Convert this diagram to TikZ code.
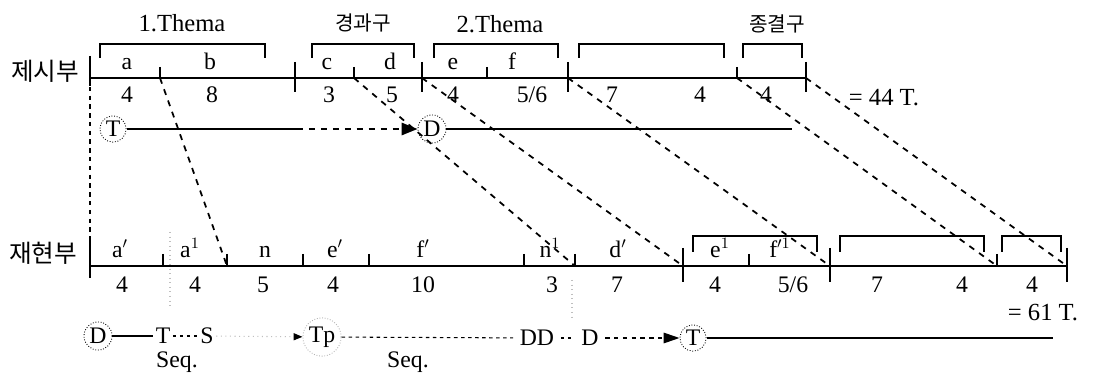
\documentclass[tikz,border=0pt]{standalone}
\usepackage{fontspec}
\setmainfont{Liberation Serif}
\newfontfamily\kor{Noto Sans CJK KR}
\usetikzlibrary{arrows.meta}

\begin{document}
\begin{tikzpicture}[x=0.02cm,y=-0.02cm,line width=1pt,font=\fontsize{13.5}{15}\selectfont,
  fkt/.style={circle,draw,densely dotted,line width=0.5pt,inner sep=1pt},
  bez/.style={dash pattern=on 3.4pt off 3.4pt},
  klam/.style={line width=0.8pt},
  kgross/.style={font=\kor\fontsize{14}{16}\selectfont},
  kklein/.style={font=\kor\fontsize{11.5}{13}\selectfont}]
\useasboundingbox (0,0) rectangle (1093,378);
% Exposition
\node[kgross] (exlab) at (45,71) {제시부};
\foreach \n/\x/\a/\b in {0/90/-22/8,1/160/-11/0,2/295/-16/14,3/354/-11/0,4/422/-16/14,5/487/-11/0,6/568/-16/14,7/737/-11/0,8/806/-16/14}
{
 \coordinate (ex\n) at (\x,78);
 \draw (\x,78+\a) -- (\x,78+\b);
}
\draw (ex0) -- (ex8);
\foreach \x/\t [count=\i] in {127/a,210/b,327/c,390/d,453/e,512/f}
 \node[anchor=base] (exa\i) at (\x,70) {\t};
\foreach \x/\t [count=\i] in {127/4,212/8,329/3,392/5,453/4,532/{5/6},612/7,700/4,766/4}
 \node[anchor=base] (exz\i) at (\x,103) {\t};
\foreach \a/\b in {100/265,312/414,434/558,579/724,743/802}
 \draw[klam] (\a,58) |- (\b,44) -- (\b,58);
\node[font=\fontsize{14}{16}\selectfont] (th1) at (182,23) {1.Thema};
\node[kklein] (ueb) at (363,23) {경과구};
\node[font=\fontsize{14}{16}\selectfont] (th2) at (500,24) {2.Thema};
\node[kklein] (schl) at (777,24) {종결구};
\node[anchor=base,font=\fontsize{14}{16}\selectfont] (sum1) at (884,106) {= 44 T.};
% Reprise
\node[kgross] (relab) at (43,253) {재현부};
\foreach \n/\x/\a/\b in {0/90/-27/12,1/163/-12/0,2/227/-12/0,3/303/-12/0,4/369/-12/0,5/524/-12/0,6/575/-12/0,7/683/-18/16,8/749/-12/0,9/830/-18/16,10/997/-12/0,11/1067/-18/16}
{
 \coordinate (re\n) at (\x,266);
 \draw (\x,266+\a) -- (\x,266+\b);
}
\draw (re0) -- (re11);
\foreach \x/\t [count=\i] in {120/a$'$,190/a$^1$,265/n,335/e$'$,423/f$'$,550/n$^1$,618/d$'$,720/e$^1$,780/f$^{\prime1}$}
 \node[anchor=base] (rea\i) at (\x,258) {\t};
\foreach \x/\t [count=\i] in {122/4,195/4,263/5,333/4,423/10,552/3,617/7,715/4,793/{5/6},877/7,962/4,1032/4}
 \node[anchor=base] (rez\i) at (\x,293) {\t};
\foreach \a/\b in {693/817,840/984,1002/1061}
 \draw[klam] (\a,252) |- (\b,236) -- (\b,252);
\node[anchor=base,font=\fontsize{14}{16}\selectfont] (sum2) at (1043,321) {= 61 T.};
\draw[gray!50,dotted,line width=0.6pt] (170,232) -- (170,306);
\draw[gray!50,dotted,line width=0.6pt] (572,280) -- (572,318);
% Zuordnung
\draw[dash pattern=on 2.5pt off 2.5pt] (ex0) -- (re0);
\foreach \o/\u in {1/2,3/6,4/7,6/9,7/10,8/11}
 \draw[bez] (ex\o) -- (re\u);
% Harmonik
\node[fkt] (fT) at (113,129) {T};
\coordinate (fk) at (297,129);
\node[fkt] (fD) at (432,129) {D};
\coordinate (fe) at (792,129);
\draw (fT) -- (fk);
\draw[bez,-{Triangle[length=9pt,width=7pt]}] (fk) -- (fD);
\draw (fD) -- (fe);
\node[fkt] (gD) at (98,336) {D};
\node[inner sep=1pt] (gT) at (163,336) {T};
\node[inner sep=1pt] (gS) at (207,336) {S};
\node[fkt,draw=gray!60] (gTp) at (322,337) {Tp};
\node (gDD) at (537,338) {DD};
\node (gD2) at (590,338) {D};
\node[fkt] (gT2) at (693,338) {T};
\coordinate (ge) at (1053,338);
\draw[line width=0.8pt] (gD) -- (gT);
\draw[line width=0.6pt,dash pattern=on 2pt off 2pt] (gT) -- (gS);
\draw[gray!50,line width=0.6pt,dotted,-{Triangle[length=5pt,width=4pt,color=black]}] (gS) -- (gTp);
\draw[line width=0.6pt,dash pattern=on 2pt off 2pt] (gTp) -- (gDD);
\draw[line width=0.6pt,dash pattern=on 2pt off 2pt] (gDD) -- (gD2);
\draw[line width=0.7pt,dash pattern=on 2.5pt off 2.5pt,-{Triangle[length=9pt,width=6pt]}] (gD2) -- (gT2);
\draw[line width=0.8pt] (gT2) -- (ge);
\node (seq1) at (177,362) {Seq.};
\node (seq2) at (408,362) {Seq.};
\end{tikzpicture}
\end{document}
